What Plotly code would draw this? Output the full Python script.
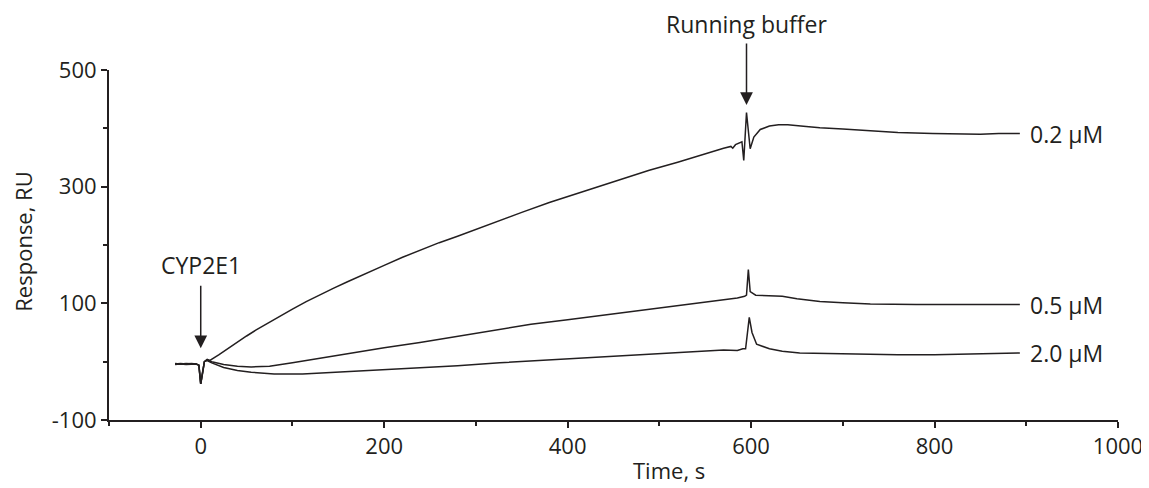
import plotly.graph_objects as go

# ---- data ----
t_02 = [-28, -22, -16, -10, -5, -2, 0, 2, 4, 7, 10, 20, 30, 40, 50, 60, 75, 88, 100, 115, 130, 145, 160, 172,
        184, 200, 220, 239, 260, 280, 300, 326, 350, 380, 410, 435, 460, 489, 520, 546, 560, 570, 578, 580,
        583, 588, 590, 592, 595, 599, 603, 610, 620, 630, 640, 660, 675, 700, 726, 760, 798, 830, 850, 870, 893]
v_02 = [-3, -4, -3, -4, -4, -6, -38, -20, 0, 4, 2, 12, 23, 34, 44, 54, 68, 79, 90, 103, 115, 126, 137, 145,
        154, 165, 179, 191, 204, 215, 227, 242, 256, 273, 288, 301, 314, 328, 342, 355, 361, 366, 369, 366,
        372, 376, 377, 345, 427, 365, 385, 398, 404, 406, 406, 403, 401, 399, 396, 393, 391, 390, 390, 391, 391]

t_05 = [-28, -22, -16, -10, -5, -2, 0, 2, 4, 7, 12, 25, 40, 55, 75, 100, 130, 160, 200, 239, 270, 300, 326, 360,
        400, 435, 460, 489, 520, 544, 570, 585, 593, 595, 597, 599, 605, 620, 634, 650, 675, 700, 730, 780,
        840, 893]
v_05 = [-4, -3, -4, -3, -4, -6, -38, -18, 0, 3, 0, -5, -8, -9, -8, -2, 6, 14, 24, 33, 41, 49, 56, 64,
        72, 79, 84, 90, 95, 100, 105, 109, 112, 114, 158, 120, 114, 113, 112, 108, 103, 101, 99, 98,
        98, 98]

t_20 = [-28, -22, -16, -10, -5, -2, 0, 2, 4, 7, 12, 25, 40, 55, 80, 111, 150, 200, 239, 280, 326, 380, 435, 489,
        520, 544, 570, 585, 591, 594, 598, 601, 606, 620, 634, 653, 680, 707, 760, 800, 850, 893]
v_20 = [-5, -4, -5, -4, -4, -6, -38, -18, 0, 2, -2, -10, -15, -18, -21, -21, -18, -14, -11, -7, -2, 3, 8, 13,
        15, 18, 20, 19, 22, 22, 76, 50, 30, 22, 18, 15, 14, 13, 12, 12, 14, 15]

series_names = ["0.2 µM", "0.5 µM", "2.0 µM"]
series_t = [t_02, t_05, t_20]
series_v = [v_02, v_05, v_20]
label_x = 902

x_ticks = [0, 200, 400, 600, 800, 1000]
y_ticks = [-100, 100, 300, 500]

INK = "#231f20"
FONT = "Open Sans"
FS = 22
FS_LBL = 23

fig = go.Figure()
for name, t, v in zip(series_names, series_t, series_v):
    fig.add_trace(go.Scatter(x=t, y=v, mode="lines", name=name,
                             line=dict(color=INK, width=1.5), showlegend=False))
    fig.add_annotation(x=label_x, y=v[-1], xref="x", yref="y", text=name, showarrow=False,
                       xanchor="left", yanchor="middle", font=dict(family=FONT, size=FS_LBL, color=INK))

# event arrows
fig.add_annotation(x=0, y=23, xref="x", yref="y", text="", showarrow=True, ax=0, ay=-64,
                   arrowhead=2, arrowsize=1.7, arrowwidth=1.5, arrowcolor=INK)
fig.add_annotation(x=0, y=23, xref="x", yref="y", text="CYP2E1", showarrow=False, yshift=65,
                   font=dict(family=FONT, size=FS_LBL, color=INK), yanchor="bottom")
fig.add_annotation(x=595, y=440, xref="x", yref="y", text="", showarrow=True, ax=0, ay=-63,
                   arrowhead=2, arrowsize=1.7, arrowwidth=1.5, arrowcolor=INK)
fig.add_annotation(x=595, y=440, xref="x", yref="y", text="Running buffer", showarrow=False, yshift=64,
                   borderpad=0, font=dict(family=FONT, size=FS_LBL, color=INK), yanchor="bottom")

# axis titles
fig.add_annotation(x=0.555, y=-0.143, xref="paper", yref="paper", text="Time, s", showarrow=False,
                   font=dict(family=FONT, size=FS, color=INK), yanchor="middle")
fig.add_annotation(x=-0.086, y=0.51, xref="paper", yref="paper", text="Response, RU", showarrow=False,
                   textangle=-90, font=dict(family=FONT, size=FS, color=INK), xanchor="center")

axis_common = dict(showgrid=False, zeroline=False, showline=True, linecolor=INK, linewidth=2,
                   ticks="outside", ticklen=6, tickwidth=2, tickcolor=INK,
                   tickfont=dict(family=FONT, size=FS, color=INK))
fig.update_xaxes(range=[-100, 1000], tickvals=x_ticks, ticktext=[str(v) for v in x_ticks],
                 minor=dict(tickvals=[-100, 100, 300, 500, 700, 900], ticklen=4, tickwidth=2, tickcolor=INK, ticks="outside"),
                 **axis_common)
fig.update_yaxes(range=[-100, 500], tickvals=y_ticks, ticktext=[str(v) for v in y_ticks],
                 minor=dict(tickvals=[0, 200, 400], ticklen=4, tickwidth=2, tickcolor=INK, ticks="outside"),
                 **axis_common)

# the page body adds an 8 px offset, so margins are reduced by 8 on the top/left
fig.update_layout(width=1149, height=488, margin=dict(l=101, r=39, t=62, b=76),
                  paper_bgcolor="white", plot_bgcolor="white",
                  font=dict(family=FONT, color=INK))
fig.write_html("out.html")
